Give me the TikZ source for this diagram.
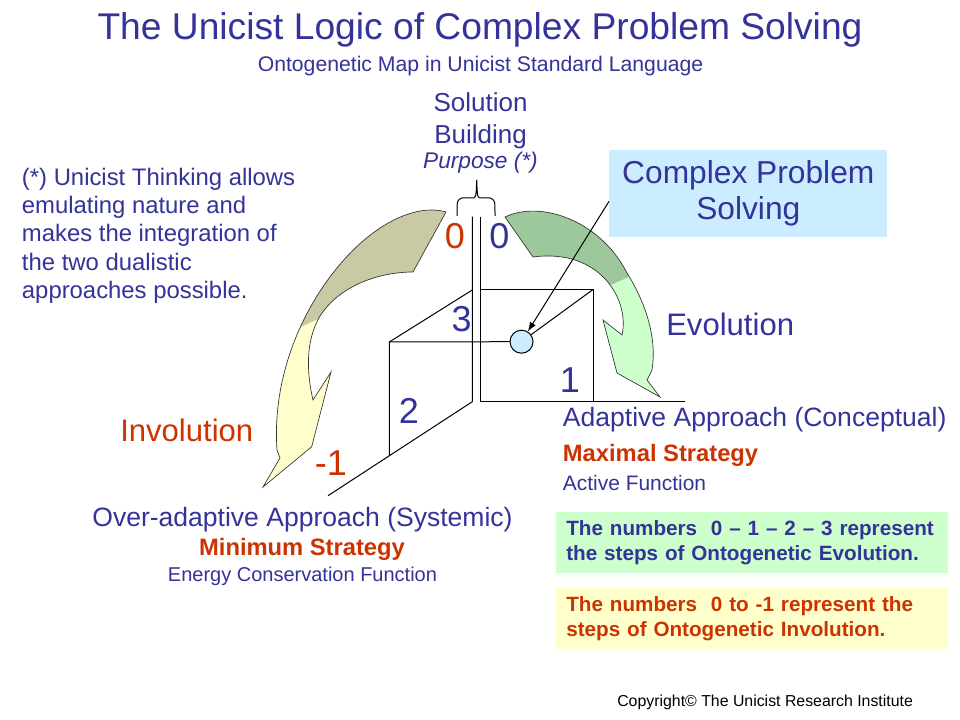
\documentclass[tikz,border=0pt]{standalone}
\usepackage{fontspec}
\setmainfont{Liberation Sans}
\usepackage{xcolor}
\usetikzlibrary{arrows.meta}
\definecolor{unavy}{HTML}{333399}
\definecolor{ured}{HTML}{CC3300}
\definecolor{ublue}{HTML}{CCECFF}
\definecolor{ugreen}{HTML}{CCFFCC}
\definecolor{uyellow}{HTML}{FFFFCC}
\definecolor{uolive}{HTML}{C9C9A3}
\definecolor{udkgreen}{HTML}{9CC89C}

\begin{document}
\begin{tikzpicture}[
    x=0.75pt, y=-0.75pt,
    lbl/.style={inner sep=0pt, text=unavy},
    num/.style={lbl, anchor=base, font=\fontsize{27}{32}\selectfont},
    axis/.style={line width=0.75pt},
    bigarrow/.style={draw=black!80, line width=0.5pt},
    notebox/.style={anchor=west, inner xsep=7.5pt, inner ysep=0pt, minimum height=45.75pt, text width=279pt, align=left, font=\bfseries\fontsize{15.5}{18.75}\selectfont},
]
\useasboundingbox (0,0) rectangle (960,720);
\fill[white] (0,0) rectangle (960,720);

% Headings
\node[lbl, anchor=base, font=\fontsize{27.9}{33}\selectfont] (title) at (480,40) {The Unicist Logic of Complex Problem Solving};
\node[lbl, anchor=base, font=\fontsize{15.9}{19}\selectfont] (subtitle) at (480.5,71.7) {Ontogenetic Map in Unicist Standard Language};
\node[lbl, anchor=base, align=center, font=\fontsize{19.5}{23.7}\selectfont] (solution) at (480.5,143.3) {Solution\\Building};
\node[lbl, anchor=base, font=\itshape\fontsize{17}{20}\selectfont] (purpose) at (480.5,168.3) {Purpose (*)};
\node[lbl, anchor=base west, align=left, font=\fontsize{17.9}{21.2}\selectfont] (note) at (21.7,298.3) {(*) Unicist Thinking allows\\emulating nature and\\makes the integration of\\the two dualistic\\approaches possible.};

% Curved arrows
\path[save path=\invpath] (446,212) .. controls (415,203) and (370,225) .. (333,273) .. controls (300,315) and (272,380) .. (277,450) -- (280,458) -- (263,487) -- (311.7,446.7) -- (331,372) -- (313,400) .. controls (306,370) and (306,340) .. (320,316) .. controls (340,285) and (380,272) .. (413,272) -- cycle;
\fill[uyellow, use path=\invpath];
\begin{scope}
  \clip[use path=\invpath];
  \fill[uolive] (250,350) -- (360,300) -- (460,300) -- (460,190) -- (250,190) -- cycle;
\end{scope}
\draw[bigarrow, use path=\invpath];

\path[save path=\evopath] (505,217) .. controls (540,200) and (600,220) .. (627,273) .. controls (647,305) and (657,340) .. (652,370) -- (647,380) -- (660,397) -- (617,373) -- (603,320) -- (622,335) .. controls (630,300) and (600,248) .. (533,257) -- cycle;
\fill[ugreen, use path=\evopath];
\begin{scope}
  \clip[use path=\evopath];
  \fill[udkgreen] (490,300) -- (600,290) -- (670,258) -- (670,190) -- (490,190) -- cycle;
\end{scope}
\draw[bigarrow, use path=\evopath];

% Axes and cube
\coordinate (topL) at (472.3,216.7);
\coordinate (topR) at (480.3,216.7);
\coordinate (origL) at (472.3,401.7);
\coordinate (origR) at (480.3,401.7);
\coordinate (backL) at (389.3,342);
\coordinate (backR) at (593.3,289.3);

\node[circle, draw, fill=ublue, minimum size=17.25pt, inner sep=0pt, line width=0.75pt] (hub) at (521.5,341.7) {};

\draw[axis] (topL) -- (origL) -- (328,495.7);
\draw[axis] (topR) -- (origR) -- (685,401.7);
\draw[axis] (472.3,290) -- (backL) -- (389.3,456);
\draw[axis] (480.3,289.3) -- (backR) -- (593.3,401.7);
\draw[axis] (backL) -- (hub.west);
\draw[axis] (backR) -- (hub);

% Brace over the two zeros
\draw[line width=0.75pt] (457,216) .. controls (457,200) .. (462,198) -- (472,198) .. controls (476,198) .. (476.7,180) .. controls (477.4,198) .. (481.4,198) -- (490,198) .. controls (495,200) .. (495,216);

% Steps
\node[num, text=ured] (zeroL) at (455,248.3) {0};
\node[num] (zeroR) at (499.3,248.3) {0};
\node[num] (three) at (461.7,331.7) {3};
\node[num] (one) at (570,392.7) {1};
\node[num] (two) at (409,423.3) {2};
\node[num, text=ured] (minusone) at (331,475) {-1};

% Complex problem solving
\node[fill=ublue, text=unavy, minimum width=208.5pt, minimum height=65pt, align=center, inner sep=0pt, font=\fontsize{23.8}{27.5}\selectfont] (cps) at (748.3,193.3) {Complex Problem\\Solving};
\draw[line width=0.75pt, -{Latex[length=7pt, width=5pt]}] ([yshift=-6pt]cps.west) -- (hub);

\node[lbl, anchor=base west, font=\fontsize{23.3}{28}\selectfont] (evolab) at (666,335) {Evolution};
\node[lbl, text=ured, anchor=base west, font=\fontsize{23.3}{28}\selectfont] (invlab) at (120,441.7) {Involution};

% Approaches
\node[lbl, anchor=base west, font=\fontsize{19.9}{24}\selectfont] (adaptive) at (562.7,426.7) {Adaptive Approach (Conceptual)};
\node[lbl, text=ured, anchor=base west, font=\bfseries\fontsize{17.8}{21}\selectfont] (maximal) at (562.7,461.7) {Maximal Strategy};
\node[lbl, anchor=base west, font=\fontsize{15.7}{19}\selectfont] (active) at (562.7,490) {Active Function};

\node[lbl, anchor=base, font=\fontsize{19.9}{24}\selectfont] (overadaptive) at (302.5,526.7) {Over-adaptive Approach (Systemic)};
\node[lbl, text=ured, anchor=base, font=\bfseries\fontsize{17.8}{21}\selectfont] (minimum) at (302,555) {Minimum Strategy};
\node[lbl, anchor=base, font=\fontsize{15}{18}\selectfont] (energy) at (302.5,581.7) {Energy Conservation Function};

% Notes
\node[notebox, fill=ugreen, text=unavy] (evonote) at (556,542.2) {\mbox{The numbers~ 0 – 1 – 2 – 3 represent}\\the steps of Ontogenetic Evolution.};
\node[notebox, fill=uyellow, text=ured] (invnote) at (556,618.3) {\mbox{The numbers~ 0 to -1 represent the}\\steps of Ontogenetic Involution.};

\node[inner sep=0pt, anchor=base west, font=\fontsize{11.9}{14}\selectfont] (copyright) at (617,706.7) {Copyright© The Unicist Research Institute};

\end{tikzpicture}
\end{document}
